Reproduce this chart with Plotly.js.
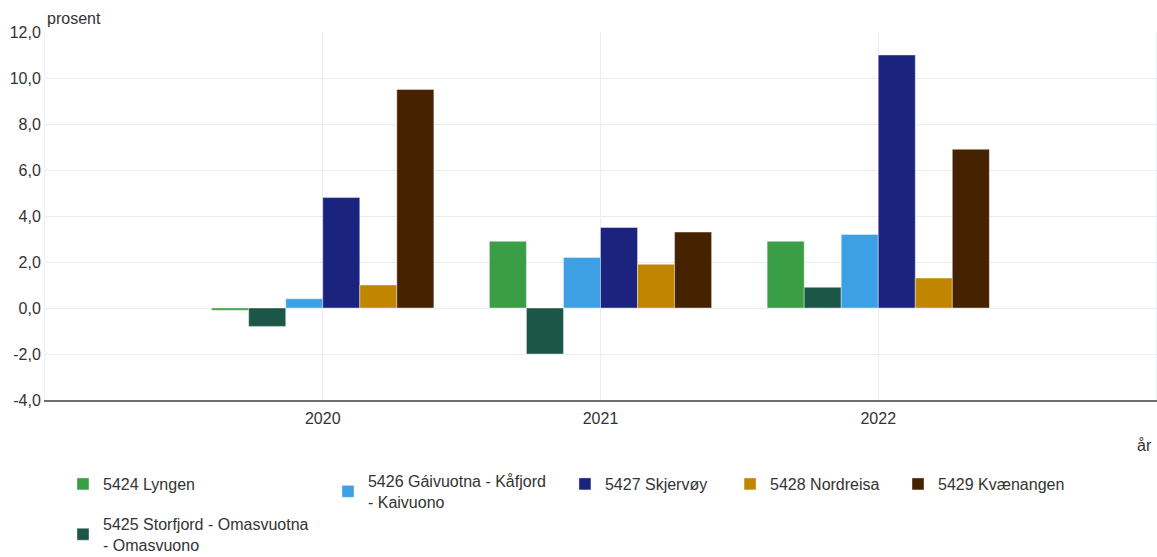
<!DOCTYPE html>
<html>
<head>
<meta charset="utf-8">
<script src="https://cdn.plot.ly/plotly-3.0.1.min.js"></script>
<style>html,body{margin:0;padding:0;background:#fff;}#chart{width:1157px;height:557px;}</style>
</head>
<body>
<div id="chart"></div>
<script>
const years = ['2020', '2021', '2022'];
const lyngen = [-0.1, 2.9, 2.9];
const storfjord = [-0.8, -2.0, 0.9];
const gaivuotna = [0.4, 2.2, 3.2];
const skjervoy = [4.8, 3.5, 11.0];
const nordreisa = [1.0, 1.9, 1.3];
const kvaenangen = [9.5, 3.3, 6.9];

const yTickVals = [-4, -2, 0, 2, 4, 6, 8, 10, 12];
const yTickText = ['-4,0', '-2,0', '0,0', '2,0', '4,0', '6,0', '8,0', '10,0', '12,0'];

const names = {
  lyngen: '5424 Lyngen',
  storfjord: '5425 Storfjord - Omasvuotna<br>- Omasvuono',
  gaivuotna: '5426 Gáivuotna - Kåfjord<br>- Kaivuono',
  skjervoy: '5427 Skjervøy',
  nordreisa: '5428 Nordreisa',
  kvaenangen: '5429 Kvænangen'
};

const FONT = '"Liberation Sans", Arial, sans-serif';
const TXT = '#333333';

function bar(y, name, color, legendId) {
  return {
    type: 'bar', x: years, y: y, name: name, legend: legendId,
    marker: {color: color, line: {color: 'rgba(255,255,255,0.4)', width: 1}},
    hoverinfo: 'x+y+name'
  };
}

const data = [
  bar(lyngen, names.lyngen, '#3a9e47', 'legend'),
  bar(storfjord, names.storfjord, '#1c5646', 'legend6'),
  bar(gaivuotna, names.gaivuotna, '#3ea0e4', 'legend2'),
  bar(skjervoy, names.skjervoy, '#1a237e', 'legend3'),
  bar(nordreisa, names.nordreisa, '#c08600', 'legend4'),
  bar(kvaenangen, names.kvaenangen, '#462200', 'legend5')
];

function leg(x, y) {
  return {x: x, y: y, xref: 'paper', yref: 'container', xanchor: 'left', yanchor: 'middle',
          orientation: 'h', bgcolor: 'rgba(0,0,0,0)', font: {family: FONT, size: 16, color: TXT}};
}

const layout = {
  width: 1157, height: 557,
  margin: {l: 45, r: 1, t: 32, b: 157, autoexpand: false},
  paper_bgcolor: '#ffffff', plot_bgcolor: '#ffffff',
  separators: ', ',
  font: {family: FONT, size: 16, color: TXT},
  barmode: 'group', bargap: 0.2, bargroupgap: 0,
  showlegend: true,
  legend: leg(0.0162, 0.131),
  legend2: leg(0.2547, 0.1175),
  legend3: leg(0.468, 0.131),
  legend4: leg(0.6166, 0.131),
  legend5: leg(0.7678, 0.131),
  legend6: leg(0.0162, 0.0405),
  xaxis: {
    type: 'category', range: [-1, 3],
    showgrid: true, gridcolor: '#e8edef', gridwidth: 1,
    showline: true, linecolor: '#6e6e6e', linewidth: 2,
    ticks: '', ticklabelstandoff: 3, tickfont: {family: FONT, size: 16, color: TXT},
    fixedrange: true
  },
  yaxis: {
    range: [-4, 12], tickmode: 'array', tickvals: yTickVals, ticktext: yTickText,
    showgrid: true, gridcolor: '#e8edef', gridwidth: 1,
    zeroline: false,
    showline: true, mirror: true, linecolor: '#eef2f3', linewidth: 1,
    ticks: '', tickfont: {family: FONT, size: 16, color: TXT},
    fixedrange: true
  },
  annotations: [
    {text: 'prosent', xref: 'paper', yref: 'paper', x: 0, y: 1.038, xanchor: 'left', yanchor: 'middle',
     showarrow: false, font: {family: FONT, size: 16, color: TXT}},
    {text: 'år', xref: 'paper', yref: 'paper', x: 0.99, y: -0.1223, xanchor: 'center', yanchor: 'middle',
     showarrow: false, font: {family: FONT, size: 16, color: TXT}}
  ]
};

Plotly.newPlot('chart', data, layout, {displayModeBar: false, staticPlot: true});
</script>
</body>
</html>
